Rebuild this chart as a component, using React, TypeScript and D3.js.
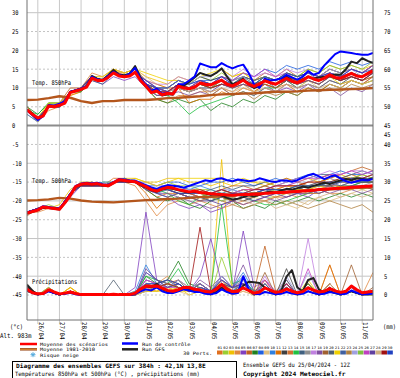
import React from 'react';
import * as d3 from 'd3';

// ---------- DATA ----------
const DATES = ['26/04','27/04','28/04','29/04','30/04','01/05','02/05','03/05','04/05','05/05','06/05','07/05','08/05','09/05','10/05','11/05'];
const LEFT_TICKS = [30,25,20,15,10,5,0,-5,-10,-15,-20,-25,-30,-35,-40,-45];
const RIGHT_TICKS_TOP = [75,70,65,60,55,50,45];
const RIGHT_TICKS_BOTTOM = [40,35,30,25,20,15,10,5,0];
const MEMBER_NAMES = ['01','02','03','04','05','06','07','08','09','10','11','12','13','14','15','16','17','18','19','20','21','22','23','24','25','26','27','28','29','30'];
const MEMBER_COLORS = ['#e07020','#9acd32','#f0c000','#e08840','#8040c0','#c06020','#208020','#2060e0','#e0c080','#3080e0','#e07000','#404040','#d07030','#20c040','#406080','#909090','#c080e0','#8050a0','#a06030','#506070','#f0d000','#4060a0','#b08040','#a0a0e0','#80c040','#c040c0','#6040a0','#d0b080','#a01010','#2040c0'];

// 6-hourly series (65 values, 0..384h)
const MEAN_850 = [4.2,3.0,2.0,2.6,5.2,5.0,5.4,6.0,8.8,9.2,9.6,10.2,12.6,12.0,12.0,12.8,14.0,13.2,13.0,13.2,14.2,12.0,10.5,8.8,9.2,8.2,8.6,8.4,10.5,10.0,9.8,10.2,11.3,11.0,10.8,11.5,12.1,11.0,10.5,11.2,12.1,11.0,10.4,11.0,11.9,11.4,11.0,11.8,12.6,11.8,11.4,12.0,13.0,12.4,12.0,12.6,13.5,12.8,12.6,13.2,13.9,13.2,13.0,13.8,14.6];
const CONTROL_850 = [4.0,2.8,1.5,2.5,5.5,5.3,5.8,6.4,9.0,9.4,9.8,10.5,13.0,12.3,12.0,13.2,14.3,13.5,13.0,13.8,15.3,12.4,11.0,9.3,9.8,8.5,8.8,8.4,11.0,11.0,12.0,13.0,16.5,16.0,15.5,15.5,16.6,15.8,15.2,15.8,16.2,14.0,11.0,10.0,12.5,12.0,12.2,12.5,13.5,12.8,12.2,13.0,14.5,13.5,14.0,16.0,17.5,19.0,19.7,19.5,19.3,19.0,18.8,18.8,19.3];
const GFS_850 = [4.3,3.2,1.8,2.8,5.4,5.2,5.5,6.0,9.0,9.3,9.8,10.4,13.2,12.4,12.2,13.4,14.8,13.6,13.4,13.8,15.8,12.8,10.5,9.0,9.5,8.0,8.4,8.2,10.4,10.6,11.6,12.8,14.0,13.5,13.2,14.0,15.2,13.0,11.0,11.5,12.5,11.0,10.0,10.6,12.0,11.5,11.0,12.0,13.0,12.0,11.5,12.2,13.0,12.5,12.8,13.0,13.2,13.6,13.5,15.0,17.0,16.6,17.9,17.2,16.6];
const MEAN_500 = [-23.2,-22.8,-22.4,-21.6,-21.8,-22.0,-22.2,-20.5,-18.5,-16.2,-15.6,-15.4,-15.6,-15.4,-15.8,-16.0,-15.2,-14.4,-14.6,-14.8,-14.9,-15.6,-16.2,-17.0,-17.4,-16.8,-16.4,-16.6,-17.0,-17.3,-17.6,-17.4,-17.8,-17.9,-18.1,-18.2,-18.3,-18.4,-18.5,-18.4,-18.3,-18.3,-18.2,-18.2,-18.0,-17.9,-17.8,-17.8,-17.7,-17.6,-17.5,-17.4,-17.3,-17.2,-17.0,-16.9,-16.8,-16.7,-16.6,-16.5,-16.4,-16.3,-16.2,-16.1,-16.0];
const CONTROL_500 = [-23.0,-22.6,-22.2,-21.4,-21.6,-21.8,-22.0,-20.2,-18.2,-16.0,-15.4,-15.2,-15.4,-15.2,-15.6,-15.8,-15.0,-14.2,-14.4,-14.6,-14.6,-15.2,-15.8,-16.4,-16.8,-16.2,-15.8,-16.0,-16.2,-16.5,-16.0,-15.5,-15.0,-14.5,-14.8,-14.2,-14.0,-14.5,-14.8,-14.3,-14.5,-14.8,-14.6,-14.0,-14.4,-14.8,-15.0,-14.6,-14.6,-14.9,-14.5,-13.8,-13.2,-12.8,-13.5,-14.2,-13.6,-13.2,-14.0,-14.8,-15.2,-14.8,-14.4,-14.6,-14.2];
const GFS_500 = [-23.4,-22.9,-22.5,-21.8,-21.9,-22.1,-22.3,-20.6,-18.6,-16.3,-15.7,-15.5,-15.7,-15.5,-15.9,-16.1,-15.3,-14.5,-14.7,-14.9,-15.0,-15.8,-16.5,-17.2,-17.6,-17.0,-16.6,-16.8,-17.2,-17.5,-17.8,-17.6,-17.7,-18.0,-18.4,-18.2,-18.6,-19.2,-19.6,-19.4,-19.0,-18.5,-18.8,-18.4,-17.8,-17.5,-17.8,-17.2,-16.8,-17.0,-16.6,-16.2,-16.5,-16.0,-15.6,-15.2,-15.5,-15.0,-14.6,-14.2,-14.5,-14.0,-14.2,-14.4,-14.0];
const MEAN_PRECIP = [1.5,0.6,0.3,0.4,1.4,0.8,0.3,0.5,0.8,0.4,0.1,0.1,0.1,0.1,0.1,0.1,0.2,0.1,0.1,0.1,0.5,1.6,2.4,2.3,2.4,1.8,1.2,1.0,1.4,2.0,2.0,1.5,1.3,0.9,0.8,1.5,2.8,1.5,0.9,1.0,1.9,1.2,0.5,0.8,1.9,1.3,0.7,0.9,1.6,1.0,0.6,0.9,1.9,1.3,0.8,1.0,1.7,1.1,0.7,1.0,2.4,1.4,0.6,0.8,1.0];
const CONTROL_PRECIP = [1.5,0.5,0.2,0.3,1.0,0.5,0.2,0.3,0.6,0.2,0,0,0,0,0,0,0,0,0,0,0.3,1.0,1.5,1.2,2.0,1.0,0.5,0.5,1.0,1.5,1.2,0.8,0.8,0.3,0.2,0.5,1.5,0.8,0.3,0.5,5.0,1.5,0.3,0.2,0.8,0.5,0.2,0.3,0.8,0.4,0.2,0.3,1.0,0.5,0.2,0.3,0.8,0.5,0.2,0.3,1.2,0.6,0.2,0.2,0.4];
const GFS_PRECIP = [2.7,1.0,0.3,0.4,1.2,0.6,0.2,0.4,0.8,0.3,0,0,0,0,0,0,0,0,0,0,0.4,1.5,2.5,2.0,3.0,1.5,1.0,0.8,1.2,1.8,1.5,1.0,1.0,0.5,0.3,0.8,2.0,1.0,0.5,0.8,2.5,3.5,3.4,3.2,2.0,1.0,0.5,1.0,4.9,6.6,2.0,1.0,4.0,4.5,1.5,0.5,1.0,0.5,0.3,0.5,1.0,0.5,0.2,0.3,0.5];

// 12-hourly climatology (33 values)
const CLIM_850 = [6.8,6.9,7.3,7.8,7.4,6.5,6.0,6.5,6.5,6.8,6.8,6.8,7.0,7.3,7.4,7.6,7.8,8.1,8.3,8.4,8.5,8.6,8.8,9.0,9.0,9.1,9.3,9.4,9.5,9.6,9.7,9.8,10.0];
const CLIM_500 = [-19.9,-19.8,-19.6,-19.2,-19.4,-19.9,-20.2,-20.3,-20.4,-20.2,-20.0,-19.8,-19.7,-19.5,-19.4,-19.2,-19.0,-18.9,-18.7,-18.5,-18.3,-18.0,-17.9,-17.8,-17.6,-17.4,-17.2,-17.0,-16.9,-16.8,-16.6,-16.5,-16.4];

// 12-hourly perturbed members (30 x 33)
const PERTS_850 = [
[4,2,5,6,9,10,13,12,14,13,15,11,8,8,10,9,10,10,12,10,11,9,11,10,12,11,12,11,13,12,13,12,14],
[5,2,6,5,9,9,12,12,14,13,14,12,10,10,12,11,13,12,14,12,13,11,12,11,12,10,12,11,13,12,14,13,15],
[4,1,5,5,8,9,13,12,15,14,15,13,12,11,13,12,14,13,15,13,14,12,13,12,14,13,15,14,16,15,16,15,16],
[3,1,4,5,9,10,14,13,15,14,15,10,7,6,8,8,9,9,10,9,11,10,11,10,12,11,12,11,13,12,13,12,13],
[4,2,5,5,9,10,12,11,13,12,13,10,8,9,11,10,12,11,13,11,12,10,11,9,10,9,11,10,12,11,12,11,13],
[4,2,5,6,10,10,13,12,14,14,15,12,10,9,11,10,12,11,12,11,13,12,14,13,15,13,14,13,15,14,15,14,16],
[5,3,6,6,9,10,13,12,14,13,14,10,7,6,7,6,7,4,6,5,7,6,8,7,9,8,10,9,11,10,12,11,12],
[4,2,5,5,9,9,12,12,14,13,14,11,9,9,11,11,12,12,13,12,14,13,15,14,16,15,16,15,17,16,17,16,17],
[4,2,6,6,9,10,13,13,15,14,15,13,11,10,12,10,11,10,11,10,11,9,10,9,11,10,12,10,12,11,13,12,13],
[3,1,5,5,9,10,12,12,14,13,14,10,9,8,10,9,10,10,11,10,12,11,13,12,13,12,13,12,14,13,15,14,16],
[4,2,5,5,8,9,13,12,15,13,14,12,11,10,10,6,7,7,9,8,10,9,11,10,11,9,10,9,11,10,12,11,13],
[4,2,5,5,9,10,12,12,14,13,14,11,10,10,12,11,13,12,13,12,13,12,13,12,14,13,14,13,15,14,15,14,16],
[5,2,5,6,9,10,13,12,14,13,14,11,9,8,10,10,11,10,11,10,12,10,12,11,12,11,13,12,14,13,14,13,15],
[4,3,6,6,9,9,13,12,14,13,14,11,8,8,6,3,5,6,7,8,9,8,10,10,12,11,13,12,13,12,14,13,14],
[4,2,5,5,9,10,12,11,14,13,14,11,10,9,11,10,12,11,12,11,13,11,12,10,12,10,11,10,12,11,13,12,14],
[4,1,5,5,9,10,13,12,14,13,14,11,9,9,10,10,11,11,12,11,12,11,12,11,13,12,13,12,14,13,14,13,14],
[4,2,5,6,9,10,13,12,14,13,14,12,11,11,13,12,14,13,15,13,15,13,14,13,15,14,15,12,14,13,14,13,15],
[4,2,5,5,9,10,13,12,14,13,14,10,8,8,9,8,9,8,10,8,9,8,10,9,11,10,11,9,10,8,10,9,11],
[4,2,5,5,9,10,12,12,14,13,14,11,9,9,11,10,11,10,11,10,11,10,11,10,12,11,12,11,13,12,13,12,13],
[4,2,5,5,9,10,13,12,14,13,14,11,10,9,11,10,12,11,12,11,12,11,13,12,13,12,14,13,14,13,14,13,15],
[4,2,6,6,9,10,13,13,15,14,15,14,13,12,12,11,13,14,15,13,14,12,13,12,13,12,13,12,13,11,12,11,12],
[4,2,5,5,9,10,12,12,14,13,14,11,10,9,11,10,11,10,12,11,13,12,13,12,14,13,14,12,13,12,14,13,15],
[4,2,5,5,9,10,13,12,14,13,14,11,9,8,10,9,10,8,10,8,9,7,9,8,9,8,10,9,10,9,11,10,11],
[4,2,5,5,9,10,13,12,14,13,14,12,10,10,12,11,13,13,15,12,13,11,12,11,13,12,14,13,15,14,15,13,14],
[4,2,5,5,9,10,13,12,14,13,14,11,9,8,10,9,11,10,12,10,12,11,13,12,14,13,15,14,16,15,16,15,17],
[4,2,5,5,9,10,13,12,14,13,14,12,10,9,11,10,12,11,13,12,14,13,15,13,14,12,14,13,14,13,15,14,16],
[4,2,5,5,9,10,13,12,14,13,14,11,10,9,10,9,10,9,11,10,11,10,12,11,12,11,12,11,13,12,13,12,14],
[4,2,5,5,9,10,12,12,14,13,14,11,9,9,10,9,10,9,10,9,10,9,10,9,11,10,11,10,11,10,12,11,12],
[4,2,5,5,9,10,13,12,14,13,14,11,9,9,11,10,11,10,11,11,12,11,12,11,13,12,13,12,13,12,13,12,14],
[4,2,5,5,9,10,13,12,14,13,14,12,10,10,12,11,12,11,13,11,12,11,13,12,14,13,14,13,14,13,15,14,15],
];

const PERTS_500 = [
[-23,-22,-22,-22,-18,-16,-15,-16,-14,-14,-15,-17,-19,-18,-18,-19,-20,-19,-19,-20,-19,-18,-17,-17,-16,-16,-15,-15,-14,-15,-15,-14,-15],
[-23,-22,-21,-22,-18,-16,-16,-15,-15,-14,-15,-15,-16,-15,-16,-16,-17,-17,-18,-18,-17,-18,-19,-19,-18,-17,-18,-18,-17,-16,-16,-17,-16],
[-23,-22,-22,-21,-17,-15,-15,-16,-15,-14,-14,-15,-15,-14,-14,-15,-15,-16,-15,-16,-15,-15,-16,-15,-14,-15,-14,-15,-14,-13,-14,-13,-14],
[-23,-23,-22,-22,-18,-16,-16,-16,-15,-15,-16,-20,-24,-21,-20,-21,-20,-21,-22,-21,-20,-19,-18,-19,-18,-19,-18,-17,-18,-18,-17,-16,-17],
[-23,-22,-22,-22,-19,-16,-16,-16,-15,-15,-15,-17,-18,-19,-21,-22,-21,-23,-22,-20,-19,-18,-19,-18,-17,-18,-19,-17,-16,-15,-14,-15,-14],
[-23,-22,-22,-22,-18,-16,-16,-16,-15,-14,-15,-16,-17,-16,-16,-17,-17,-18,-17,-16,-16,-17,-16,-15,-14,-15,-16,-15,-14,-13,-12,-11,-12],
[-23,-22,-22,-22,-18,-16,-16,-16,-15,-15,-15,-17,-19,-20,-19,-21,-22,-20,-19,-20,-22,-21,-22,-20,-21,-20,-19,-20,-19,-18,-19,-18,-19],
[-23,-22,-22,-22,-18,-16,-15,-16,-15,-14,-15,-16,-16,-15,-15,-16,-16,-15,-15,-14,-15,-16,-15,-14,-15,-14,-13,-14,-13,-12,-13,-13,-12],
[-23,-22,-22,-22,-18,-16,-16,-16,-15,-15,-15,-16,-17,-17,-18,-18,-17,-18,-19,-19,-18,-19,-20,-19,-21,-22,-20,-19,-20,-19,-18,-17,-18],
[-23,-22,-22,-22,-18,-16,-16,-15,-15,-15,-15,-16,-18,-17,-16,-17,-16,-17,-18,-17,-18,-17,-16,-17,-18,-17,-16,-16,-15,-15,-14,-15,-15],
[-23,-22,-22,-22,-18,-16,-16,-16,-15,-15,-15,-18,-22,-19,-18,-18,-19,-18,-17,-18,-17,-17,-16,-17,-16,-16,-15,-14,-13,-14,-13,-14,-13],
[-23,-22,-22,-22,-18,-16,-16,-16,-15,-15,-15,-16,-17,-17,-18,-19,-19,-20,-19,-19,-20,-19,-18,-18,-17,-17,-16,-16,-16,-17,-16,-15,-15],
[-24,-22,-22,-22,-18,-16,-16,-16,-15,-15,-15,-16,-17,-16,-17,-18,-19,-18,-19,-20,-21,-20,-20,-19,-19,-18,-18,-18,-17,-17,-17,-16,-16],
[-23,-22,-22,-22,-18,-16,-16,-16,-15,-15,-15,-16,-17,-18,-20,-21,-19,-18,-17,-18,-19,-20,-21,-21,-20,-19,-18,-17,-17,-16,-16,-15,-15],
[-23,-22,-22,-22,-18,-16,-16,-16,-15,-15,-15,-16,-17,-16,-17,-18,-18,-17,-16,-17,-16,-16,-15,-16,-15,-14,-14,-13,-13,-14,-13,-12,-13],
[-23,-22,-22,-22,-18,-16,-16,-16,-15,-15,-15,-16,-17,-16,-17,-18,-18,-19,-18,-18,-17,-18,-17,-17,-18,-18,-17,-17,-16,-16,-16,-16,-15],
[-23,-22,-22,-22,-18,-16,-16,-16,-15,-15,-15,-15,-16,-16,-17,-18,-19,-19,-20,-19,-18,-17,-17,-16,-15,-14,-14,-13,-12,-13,-12,-12,-13],
[-23,-22,-22,-22,-18,-16,-16,-16,-15,-15,-15,-17,-18,-18,-19,-20,-21,-22,-21,-20,-21,-20,-19,-20,-19,-18,-18,-17,-18,-17,-17,-18,-17],
[-23,-22,-22,-22,-18,-16,-16,-16,-15,-15,-15,-16,-17,-17,-17,-18,-19,-19,-19,-20,-19,-19,-18,-18,-18,-17,-17,-16,-16,-16,-15,-15,-15],
[-23,-22,-22,-22,-18,-16,-16,-16,-15,-15,-15,-16,-17,-17,-18,-18,-18,-18,-18,-19,-18,-18,-17,-17,-17,-17,-16,-16,-16,-15,-15,-15,-15],
[-23,-22,-22,-22,-18,-16,-16,-16,-15,-15,-14,-15,-16,-15,-14,-14,-14,-14,-14,-15,-14,-15,-15,-16,-16,-17,-17,-16,-17,-16,-17,-16,-17],
[-23,-22,-22,-22,-18,-16,-16,-16,-15,-15,-15,-16,-18,-19,-18,-19,-19,-20,-19,-18,-19,-18,-17,-18,-17,-16,-16,-15,-15,-16,-15,-15,-14],
[-23,-22,-22,-22,-18,-16,-16,-16,-15,-15,-15,-16,-17,-17,-18,-19,-20,-19,-20,-21,-22,-21,-20,-21,-20,-21,-22,-21,-20,-21,-22,-21,-23],
[-23,-22,-22,-22,-18,-16,-16,-16,-15,-15,-15,-16,-17,-16,-17,-17,-18,-18,-17,-17,-18,-17,-17,-16,-16,-15,-15,-14,-14,-15,-14,-14,-13],
[-23,-22,-22,-22,-18,-16,-16,-16,-15,-15,-15,-16,-17,-17,-17,-18,-18,-19,-20,-19,-18,-19,-18,-17,-17,-16,-16,-16,-15,-14,-14,-13,-14],
[-23,-22,-22,-22,-18,-16,-16,-16,-15,-15,-15,-16,-17,-16,-17,-18,-18,-18,-17,-18,-17,-17,-17,-16,-16,-15,-14,-14,-13,-13,-12,-13,-12],
[-23,-22,-22,-22,-18,-16,-16,-16,-15,-15,-15,-16,-17,-17,-18,-19,-20,-20,-21,-20,-19,-20,-19,-18,-19,-18,-17,-18,-17,-17,-16,-16,-17],
[-23,-22,-22,-22,-18,-16,-16,-16,-15,-15,-15,-16,-17,-17,-17,-18,-18,-18,-19,-19,-20,-21,-20,-22,-21,-20,-21,-19,-18,-19,-18,-19,-18],
[-23,-22,-22,-22,-18,-16,-16,-16,-15,-15,-15,-16,-17,-16,-17,-18,-17,-18,-17,-18,-18,-17,-17,-16,-16,-16,-15,-15,-15,-14,-14,-14,-13],
[-23,-22,-22,-22,-18,-16,-16,-16,-15,-15,-15,-16,-17,-17,-18,-18,-18,-18,-19,-18,-18,-18,-17,-17,-17,-16,-16,-16,-15,-15,-14,-14,-14],
];

const PERTS_PRECIP = [
[2,0,1,0,1,0,0,0,0,0,0,2,1,2,3,1,2,0,4,1,3,0,2,0,1,0,2,0,1,0,2,0,1],
[1,0,2,0,1,0,0,0,0,0,0,3,2,1,2,1,1,0,10,2,2,1,1,0,2,0,1,0,2,0,1,0,0],
[2,0,1,0,2,0,0,0,0,0,1,1,1,1,2,0,1,0,36,1,2,0,3,0,1,0,2,0,3,0,1,0,1],
[1,0,1,0,1,0,0,0,0,0,0,2,3,5,2,1,3,1,2,0,1,0,3,0,2,0,1,0,8,0,2,0,6],
[2,0,1,0,1,0,0,0,0,0,2,22,4,3,2,1,5,15,3,1,17,2,4,1,2,0,3,0,2,0,1,0,1],
[2,0,1,0,1,0,0,0,0,0,0,3,2,3,4,2,3,1,5,2,3,1,13,1,4,0,3,0,2,0,1,0,0],
[1,0,1,0,1,0,0,0,0,0,0,5,3,4,9,3,2,1,4,2,3,0,2,0,3,0,2,0,1,0,2,0,1],
[2,0,2,0,1,0,0,0,0,0,0,6,4,2,3,1,2,1,3,1,4,0,2,0,2,0,1,0,2,0,1,0,1],
[1,0,1,0,1,0,0,0,0,0,0,1,1,2,1,0,1,0,2,0,1,0,1,0,1,0,1,0,1,0,1,0,0],
[2,0,1,0,1,0,0,0,0,0,1,8,3,4,2,1,3,1,5,2,6,1,2,0,3,0,2,0,1,0,1,0,1],
[1,0,1,0,2,0,0,0,0,0,0,2,2,3,2,1,2,0,3,1,2,0,4,0,2,0,3,0,8,0,2,0,1],
[3,0,1,0,1,0,0,0,0,0,0,4,3,2,4,1,2,1,3,2,3,0,2,0,7,0,2,0,3,0,2,0,1],
[2,0,1,0,1,0,0,0,0,0,0,2,2,3,2,1,2,0,3,1,2,0,2,0,2,0,1,0,2,0,1,0,1],
[1,0,1,0,1,0,0,0,0,0,0,5,4,3,7,2,3,1,24,3,4,1,3,0,2,0,3,0,1,0,2,0,1],
[2,0,1,0,1,0,0,0,0,0,0,3,2,3,2,1,2,1,3,1,2,0,2,0,3,0,2,0,1,0,2,0,1],
[1,0,1,0,1,0,0,0,0,0,0,2,2,2,3,1,2,0,3,1,2,0,3,0,2,0,1,0,2,0,1,0,1],
[2,0,1,0,1,0,0,0,0,0,0,4,3,2,3,1,3,1,4,1,3,0,5,0,3,0,15,0,3,0,2,0,1],
[1,0,1,0,1,0,0,0,0,0,0,6,4,3,2,1,4,2,5,2,8,1,3,0,2,0,2,0,2,0,1,0,0],
[2,0,1,0,1,0,0,0,0,0,0,2,3,4,3,1,2,1,3,2,4,0,6,0,2,0,2,0,3,0,8,0,2],
[2,0,1,0,1,0,0,0,4,0,0,1,2,2,3,1,2,0,3,1,2,0,2,0,2,0,1,0,2,0,1,0,1],
[1,0,2,0,2,0,0,0,0,0,0,1,1,2,1,1,2,0,4,1,2,0,3,0,2,0,4,0,2,0,1,0,1],
[2,0,1,0,1,0,0,0,0,0,0,3,3,2,3,1,2,1,3,1,3,0,2,0,4,0,2,0,1,0,2,0,1],
[1,0,1,0,1,0,0,0,0,0,0,2,2,3,2,1,3,1,2,1,2,0,2,0,2,0,2,0,3,0,2,0,1],
[2,0,1,0,1,0,0,0,0,0,0,3,3,2,4,2,3,1,5,2,4,0,3,0,5,0,6,0,2,0,1,0,1],
[1,0,1,0,1,0,0,0,0,0,0,2,2,3,2,1,2,0,3,1,2,0,2,0,2,0,2,0,1,0,1,0,0],
[2,0,1,0,1,0,0,0,0,0,0,4,3,2,2,1,2,1,4,2,3,0,4,0,3,0,7,0,2,0,2,0,1],
[1,0,1,0,1,0,0,0,0,0,0,7,4,2,3,1,3,1,3,2,3,0,2,0,2,0,2,0,2,0,1,0,1],
[2,0,1,0,1,0,0,0,0,0,0,1,2,3,2,1,2,0,3,1,2,0,3,0,2,0,2,0,3,0,1,0,1],
[2,0,1,0,1,0,0,0,0,0,0,2,2,3,2,1,18,1,3,1,2,0,2,0,3,0,2,0,2,0,1,0,1],
[1,0,1,0,1,0,0,0,0,0,0,3,3,4,3,1,2,1,4,2,5,0,3,0,2,0,2,0,2,0,1,0,1],
];

// ---------- RENDER ----------
const FONT = "'DejaVu Sans Mono', 'Liberation Mono', monospace";

function T({ x, y, s, cw = 3.24, fs = 6.5, bold = false, fill = '#000', transform }: any) {
  return (
    <text x={x} y={y} fontFamily={FONT} fontSize={fs} fontWeight={bold ? 'bold' : 'normal'} fill={fill}
      textLength={s.length * cw} lengthAdjust="spacingAndGlyphs" transform={transform}>{s}</text>
  );
}

export default function App() {
  const W = 400, H = 378;
  const x = d3.scaleLinear().domain([0, 384]).range([27, 373]);
  const y = d3.scaleLinear().domain([-45, 30]).range([295, 12.7]);
  const yR = (r: number) => y(r - 45);
  const path = (arr: number[], off = 0) =>
    d3.line<number>().x((_, i) => x((i * 384) / (arr.length - 1))).y(d => y(d + off))(arr) || '';

  const dayHours = DATES.map((_, i) => 12 + 24 * i);
  const gridVals = d3.range(-45, 31, 5).filter(v => v !== 0);
  const LFS = 4.6;

  return (
    <svg width={W} height={H} style={{ position: 'absolute', left: 0, top: 0, background: '#fff' }}>
      <rect x={0} y={0} width={W} height={H} fill="#fff" />
      <defs>
        <clipPath id="plot"><rect x={27} y={0} width={346} height={320} /></clipPath>
      </defs>
      {/* grid */}
      {gridVals.map(v => (
        <line key={'h' + v} x1={27} x2={373} y1={y(v)} y2={y(v)} stroke="#c4c4c4" strokeWidth={1}
          strokeDasharray={v % 10 === 0 ? undefined : '2,2'} />
      ))}
      {dayHours.map(h => (
        <line key={'v' + h} x1={x(h)} x2={x(h)} y1={0} y2={324} stroke="#c8c8c8" strokeWidth={1} />
      ))}
      <line x1={27} x2={373} y1={y(0)} y2={y(0)} stroke="#8c8c8c" strokeWidth={2} />

      <g clipPath="url(#plot)" fill="none" strokeLinejoin="round">
        {PERTS_PRECIP.map((m, i) => <path key={'p' + i} d={path(m, -45)} stroke={MEMBER_COLORS[i]} strokeWidth={0.8} />)}
        {PERTS_500.map((m, i) => <path key={'f' + i} d={path(m)} stroke={MEMBER_COLORS[i]} strokeWidth={0.8} />)}
        {PERTS_850.map((m, i) => <path key={'e' + i} d={path(m)} stroke={MEMBER_COLORS[i]} strokeWidth={0.8} />)}
        <path d={path(CLIM_850)} stroke="#b4561c" strokeWidth={2.4} />
        <path d={path(CLIM_500)} stroke="#b4561c" strokeWidth={2.4} />
        <path d={path(GFS_850)} stroke="#222" strokeWidth={2} />
        <path d={path(GFS_500)} stroke="#222" strokeWidth={2} />
        <path d={path(GFS_PRECIP, -45)} stroke="#222" strokeWidth={2} />
        <path d={path(CONTROL_850)} stroke="#0000ff" strokeWidth={2} />
        <path d={path(CONTROL_500)} stroke="#0000ff" strokeWidth={2} />
        <path d={path(CONTROL_PRECIP, -45)} stroke="#0000ff" strokeWidth={2} />
        <path d={path(MEAN_850)} stroke="#ff0000" strokeWidth={3} />
        <path d={path(MEAN_500)} stroke="#ff0000" strokeWidth={3} />
        <path d={path(MEAN_PRECIP, -45)} stroke="#ff0000" strokeWidth={3} />
      </g>

      {/* frame */}
      <line x1={27} x2={27} y1={0} y2={320} stroke="#707070" strokeWidth={1} />
      <line x1={373} x2={373} y1={0} y2={320} stroke="#707070" strokeWidth={1} />
      <line x1={27} x2={373} y1={320} y2={320} stroke="#707070" strokeWidth={1} />

      {/* panel labels */}
      <T x={32} y={85} s="Temp. 850hPa" />
      <T x={32} y={183} s="Temp. 500hPa" />
      <T x={32} y={284} s="Précipitations" />

      {/* axis labels */}
      {LEFT_TICKS.map(v => <T key={'l' + v} x={12} y={y(v) + 2.4} s={String(v)} />)}
      {RIGHT_TICKS_TOP.map(v => <T key={'rt' + v} x={384} y={yR(v) + 2.4} s={String(v)} />)}
      <T x={384} y={137.4} s="45" />
      {RIGHT_TICKS_BOTTOM.map(v => <T key={'rb' + v} x={384} y={yR(v) + 2.4} s={String(v)} />)}

      {/* dates */}
      {DATES.map((d, i) => (
        <T key={d} x={0} y={0} s={d} cw={3.5} transform={`translate(${x(dayHours[i]) + 0.8},322) rotate(90)`} />
      ))}
      <T x={10} y={329} s="(°c)" />
      <T x={383} y={329} s="(mm)" />
      <T x={0} y={338} s="Alt. 983m" cw={3.5} />

      {/* legend */}
      <line x1={20} x2={37} y1={344} y2={344} stroke="#ff0000" strokeWidth={2.5} />
      <T x={40} y={346} s="Moyenne des scénarios" fs={LFS} />
      <line x1={20} x2={37} y1={349.3} y2={349.3} stroke="#9a4a18" strokeWidth={2.5} />
      <line x1={20} x2={37} y1={349.3} y2={349.3} stroke="#f0a040" strokeWidth={0.8} />
      <T x={40} y={351.3} s="Moyenne 1981-2010" fs={LFS} />
      <g stroke="#55aadd" strokeWidth={1}>
        <line x1={30.5} x2={35.5} y1={354.7} y2={354.7} />
        <line x1={33} x2={33} y1={352.2} y2={357.2} />
        <line x1={31.2} x2={34.8} y1={352.9} y2={356.5} />
        <line x1={31.2} x2={34.8} y1={356.5} y2={352.9} />
      </g>
      <T x={40} y={356.8} s="Risque neige" fs={LFS} />
      <line x1={122} x2={138} y1={343.5} y2={343.5} stroke="#0000ff" strokeWidth={2.5} />
      <T x={142} y={346} s="Run de contrôle" fs={LFS} />
      <line x1={122} x2={138} y1={349.3} y2={349.3} stroke="#222" strokeWidth={2.5} />
      <T x={142} y={351.3} s="Run GFS" fs={LFS} />
      <T x={183} y={354.5} s="30 Perts." fs={LFS} />
      {MEMBER_NAMES.map((n, i) => (
        <g key={n}>
          <text x={217 + i * 5.87 + 0.4} y={348.8} fontFamily={FONT} fontSize={3.4} textLength={4.8} lengthAdjust="spacingAndGlyphs">{n}</text>
          <rect x={217 + i * 5.87} y={350.5} width={5.6} height={4} fill={MEMBER_COLORS[i]} />
        </g>
      ))}

      {/* title box */}
      <rect x={12.5} y={361.5} width={224} height={20} fill="#fff" stroke="#000" strokeWidth={1} />
      <T x={16} y={367.5} s="Diagramme des ensembles GEFS sur 384h : 42,1N 13,8E" bold cw={3.72} fs={6} />
      <T x={15} y={376} s="Températures 850hPa et 500hPa (°C) , précipitations (mm)" cw={3.3} fs={6} />
      <T x={243} y={366.5} s="Ensemble GEFS du 25/04/2024 - 12Z" fs={6} />
      <T x={243} y={376} s="Copyright 2024 Meteociel.fr" bold cw={3.8} fs={6} />
    </svg>
  );
}
